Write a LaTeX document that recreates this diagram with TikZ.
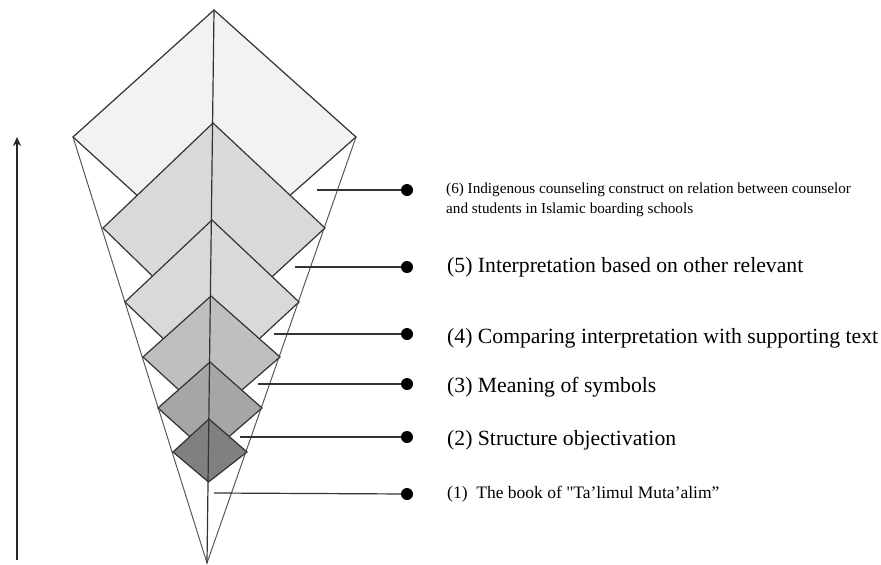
\documentclass[tikz,border=0pt]{standalone}
\usepackage{fontspec}
\setmainfont{Liberation Serif}[Ligatures=TeXOff]
\usetikzlibrary{arrows.meta}
\begin{document}
\begin{tikzpicture}[x=1pt,y=-1pt,
  edge/.style={draw=black!80,line width=1.2pt,line join=miter},
  cone/.style={draw=black!65,line width=1pt},
  conn/.style={draw=black!80,line width=1.2pt},
  dot/.style={circle,fill=black,minimum size=12pt,inner sep=0pt},
  big/.style={anchor=base west,inner sep=0pt,font=\fontsize{21.7}{26}\selectfont},
  small/.style={anchor=base west,inner sep=0pt,align=left,font=\fontsize{15.2}{20}\selectfont},
  mid/.style={anchor=base west,inner sep=0pt,font=\fontsize{17.5}{21}\selectfont}]
\useasboundingbox (0,0) rectangle (881,565);
% key points
\coordinate (top) at (214,10);
\coordinate (apex) at (207,563);
\coordinate (L1) at (73,137);
\coordinate (R1) at (356,137);
% cone lines
\draw[cone] (L1) -- (apex) -- (R1);
% diamonds
\draw[edge,fill=black!5]  (214,10)  -- (73,137)  -- (212.5,264) -- (356,137) -- cycle;
\draw[edge,fill=black!15] (213,123) -- (103,228) -- (211,333) -- (325,228) -- cycle;
\draw[edge,fill=black!15] (212,220) -- (125,302) -- (210.5,384) -- (299,302) -- cycle;
\draw[edge,fill=black!25] (211,296) -- (143,357) -- (209.5,418) -- (280,357) -- cycle;
\draw[edge,fill=black!35] (210,362) -- (158,408) -- (209,454) -- (262,408) -- cycle;
\draw[edge,fill=black!50] (209,419) -- (173,452) -- (208.5,482) -- (247,452) -- cycle;
% center line
\draw[edge] (top) -- (apex);
% connectors
\coordinate (s6) at (317,190);
\coordinate (s5) at (295,267);
\coordinate (s4) at (274,334);
\coordinate (s3) at (258,384);
\coordinate (s2) at (240,437);
\coordinate (s1) at (214,493);
\node[dot] (d6) at (407,190) {};
\node[dot] (d5) at (407,267) {};
\node[dot] (d4) at (407,334) {};
\node[dot] (d3) at (407,384) {};
\node[dot] (d2) at (407,437) {};
\node[dot] (d1) at (407,494) {};
\draw[conn] (s6) -- (d6);
\draw[conn] (s5) -- (d5);
\draw[conn] (s4) -- (d4);
\draw[conn] (s3) -- (d3);
\draw[conn] (s2) -- (d2);
\draw[conn] (s1) -- (d1);
% labels
\node[small] (t6) at (446,213) {(6) Indigenous counseling construct on relation between counselor\\and students in Islamic boarding schools};
\node[big] (t5) at (447,272) {(5) Interpretation based on other relevant};
\node[big] (t4) at (447,343) {(4) Comparing interpretation with supporting text};
\node[big] (t3) at (447,392) {(3) Meaning of symbols};
\node[big] (t2) at (447,445) {(2) Structure objectivation};
\node[mid] (t1) at (447,498) {(1)\ \ The book of "Ta’limul Muta’alim”};
% arrow
\coordinate (a0) at (17,560);
\coordinate (a1) at (17,137);
\draw[black!85,line width=1.8pt,-{Stealth[length=9pt,width=8pt]}] (a0) -- (a1);
\end{tikzpicture}
\end{document}
